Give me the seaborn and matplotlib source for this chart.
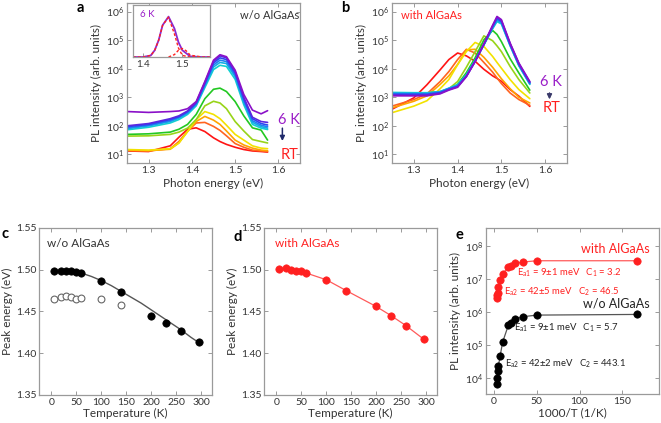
import numpy as np
import pandas as pd
import matplotlib
matplotlib.use("Agg")
import matplotlib.pyplot as plt
import seaborn as sns
from matplotlib.ticker import FixedLocator, NullLocator, FormatStrFormatter

# ---------------- data ----------------
temps = [6, 20, 30, 40, 50, 60, 100, 140, 200, 230, 260, 295]
curve_colors = ["#8a10c8", "#5a28e0", "#2a48f0", "#1e82f0", "#14aee6", "#12d0d0",
                "#22c822", "#98d418", "#f2e200", "#ffa400", "#ff6420", "#ff1414"]

# panel a: w/o AlGaAs spectra (log10 of PL intensity)
energy_a = [1.25, 1.30, 1.35, 1.37, 1.39, 1.41, 1.43, 1.45, 1.465, 1.48, 1.50, 1.52, 1.54, 1.56, 1.575]
loga_6 = [2.50, 2.47, 2.50, 2.52, 2.60, 2.85, 3.55, 4.30, 4.49, 4.42, 3.95, 3.10, 2.55, 2.42, 2.53]
loga_20 = [2.00, 2.08, 2.25, 2.35, 2.52, 2.82, 3.52, 4.25, 4.45, 4.38, 3.90, 3.00, 2.30, 2.15, 2.12]
loga_30 = [1.97, 2.05, 2.22, 2.32, 2.50, 2.80, 3.48, 4.20, 4.38, 4.32, 3.85, 2.95, 2.25, 2.08, 2.03]
loga_40 = [1.93, 2.02, 2.18, 2.30, 2.47, 2.77, 3.44, 4.13, 4.30, 4.25, 3.78, 2.88, 2.18, 2.02, 1.97]
loga_50 = [1.90, 2.00, 2.15, 2.27, 2.44, 2.74, 3.40, 4.06, 4.22, 4.18, 3.72, 2.82, 2.12, 1.97, 1.92]
loga_60 = [1.86, 1.95, 2.10, 2.22, 2.40, 2.70, 3.34, 3.97, 4.12, 4.08, 3.63, 2.74, 2.05, 1.92, 1.87]
loga_100 = [1.70, 1.72, 1.78, 1.88, 2.05, 2.40, 2.95, 3.28, 3.32, 3.20, 2.85, 2.35, 1.93, 1.85, 1.50]
loga_140 = [1.64, 1.65, 1.70, 1.78, 1.92, 2.22, 2.70, 2.86, 2.80, 2.60, 2.15, 1.82, 1.52, 1.45, 1.40]
loga_200 = [1.17, 1.15, 1.20, 1.40, 1.80, 2.22, 2.50, 2.40, 2.25, 2.02, 1.70, 1.50, 1.30, 1.22, 1.20]
loga_230 = [1.15, 1.13, 1.18, 1.40, 1.80, 2.15, 2.33, 2.20, 2.05, 1.82, 1.50, 1.33, 1.22, 1.15, 1.13]
loga_260 = [1.13, 1.12, 1.20, 1.45, 1.82, 2.10, 2.12, 1.98, 1.84, 1.65, 1.38, 1.25, 1.15, 1.12, 1.10]
loga_295 = [1.12, 1.10, 1.30, 1.60, 1.88, 1.93, 1.80, 1.58, 1.45, 1.35, 1.25, 1.17, 1.12, 1.10, 1.08]

# panel b: with AlGaAs spectra (log10 of PL intensity)
energy_b = [1.25, 1.30, 1.33, 1.36, 1.38, 1.40, 1.42, 1.44, 1.46, 1.48, 1.49, 1.50, 1.52, 1.54, 1.565]
logb_6 = [3.05, 3.05, 3.05, 3.12, 3.25, 3.35, 3.72, 4.25, 4.87, 5.52, 5.83, 5.72, 4.90, 4.20, 3.55]
logb_20 = [3.08, 3.07, 3.08, 3.14, 3.27, 3.37, 3.73, 4.25, 4.86, 5.50, 5.80, 5.69, 4.88, 4.18, 3.53]
logb_30 = [3.10, 3.10, 3.10, 3.16, 3.28, 3.38, 3.74, 4.26, 4.85, 5.48, 5.77, 5.66, 4.86, 4.16, 3.51]
logb_40 = [3.12, 3.12, 3.12, 3.18, 3.30, 3.40, 3.75, 4.27, 4.84, 5.45, 5.73, 5.63, 4.84, 4.14, 3.49]
logb_50 = [3.15, 3.14, 3.14, 3.19, 3.31, 3.42, 3.77, 4.28, 4.84, 5.42, 5.69, 5.60, 4.82, 4.12, 3.47]
logb_60 = [3.17, 3.16, 3.16, 3.20, 3.32, 3.44, 3.79, 4.30, 4.84, 5.40, 5.65, 5.57, 4.80, 4.10, 3.45]
logb_100 = [3.15, 3.15, 3.15, 3.18, 3.27, 3.45, 3.86, 4.38, 5.01, 5.34, 5.20, 4.95, 4.35, 3.85, 3.25]
logb_140 = [3.15, 3.15, 3.15, 3.20, 3.30, 3.55, 4.05, 4.60, 5.15, 4.98, 4.80, 4.60, 4.08, 3.62, 3.15]
logb_200 = [2.46, 2.69, 2.88, 3.30, 3.62, 4.14, 4.60, 4.92, 4.78, 4.43, 4.22, 4.02, 3.62, 3.27, 2.95]
logb_230 = [2.63, 2.86, 3.05, 3.45, 3.75, 4.15, 4.66, 4.68, 4.40, 4.05, 3.85, 3.65, 3.30, 3.00, 2.80]
logb_260 = [2.69, 2.92, 3.12, 3.55, 3.90, 4.32, 4.68, 4.55, 4.22, 3.88, 3.68, 3.48, 3.15, 2.92, 2.72]
logb_295 = [2.58, 2.98, 3.44, 3.96, 4.32, 4.55, 4.45, 4.26, 3.98, 3.75, 3.66, 3.56, 3.27, 3.04, 2.68]

# inset (6 K spectrum and its two components, log10)
energy_in = [1.375, 1.40, 1.42, 1.43, 1.44, 1.45, 1.465, 1.48, 1.49, 1.50, 1.52, 1.55, 1.57]
login_total = [3.00, 3.00, 3.05, 3.22, 3.55, 4.04, 4.32, 3.93, 3.49, 3.22, 3.02, 3.00, 3.00]
login_comp1 = [3.00, 3.00, 3.05, 3.22, 3.55, 4.04, 4.30, 3.75, 3.30, 3.05, 3.00, 3.00, 3.00]
energy_in2 = [1.465, 1.48, 1.49, 1.50, 1.51, 1.52, 1.55]
login_comp2 = [3.00, 3.08, 3.22, 3.28, 3.20, 3.06, 3.00]

# panel c: peak energy w/o AlGaAs
peak_c_main = [1.499, 1.499, 1.498, 1.498, 1.497, 1.496, 1.486, 1.473, 1.445, 1.436, 1.427, 1.414]
temps_c_open = [6, 20, 30, 40, 50, 60, 100, 140]
peak_c_open = [1.465, 1.467, 1.468, 1.467, 1.465, 1.466, 1.465, 1.458]
temps_fit = [60, 80, 100, 120, 140, 160, 180, 200, 220, 240, 260, 280, 295]
peak_c_fit = [1.496, 1.492, 1.487, 1.481, 1.474, 1.467, 1.460, 1.452, 1.444, 1.436, 1.428, 1.419, 1.413]

# panel d: peak energy with AlGaAs
peak_d = [1.501, 1.502, 1.500, 1.499, 1.498, 1.496, 1.488, 1.475, 1.456, 1.445, 1.433, 1.417]

# panel e: integrated PL intensity vs 1000/T (log10)
inv_T = [1000.0 / t for t in temps]
loge_with = [7.55, 7.55, 7.51, 7.47, 7.40, 7.36, 7.15, 6.97, 6.74, 6.58, 6.50, 6.41]
loge_wo = [5.92, 5.90, 5.85, 5.78, 5.65, 5.59, 5.08, 4.67, 4.35, 4.19, 4.00, 3.80]

# ---------------- style ----------------
sns.set_theme(style="ticks")
plt.rcParams["font.family"] = ["Lato", "DejaVu Sans"]
plt.rcParams["mathtext.fontset"] = "custom"
plt.rcParams["mathtext.rm"] = "Lato"
plt.rcParams["mathtext.it"] = "Lato:italic"
plt.rcParams["mathtext.bf"] = "Lato:bold"

SPINE = "#9a9a9a"
TXT = "#333333"
RED = "#ff2020"
TICK_FS = 7.5
LAB_FS = 8.5

fig = plt.figure(figsize=(6.61, 4.23), dpi=100)
fig.patch.set_facecolor("white")


def style_axes(ax, fs=TICK_FS):
    for s in ax.spines.values():
        s.set_color(SPINE)
        s.set_linewidth(0.9)
    ax.tick_params(direction="in", top=True, right=True, length=3, width=0.7,
                   color=SPINE, labelsize=fs, labelcolor=TXT, pad=2)


def spectra_frame(energy, logs):
    rows = []
    for t, lg in zip(temps, logs):
        for e, v in zip(energy, lg):
            rows.append({"E": e, "I": 10 ** v, "T": t})
    return pd.DataFrame(rows)


palette = dict(zip(temps, curve_colors))
order = temps[::-1]

# ---------- panel a ----------
axa = fig.add_axes([0.1921, 0.6147, 0.2618, 0.3782])
axa.set_yscale("log")
dfa = spectra_frame(energy_a, [loga_6, loga_20, loga_30, loga_40, loga_50, loga_60,
                               loga_100, loga_140, loga_200, loga_230, loga_260, loga_295])
sns.lineplot(data=dfa, x="E", y="I", hue="T", hue_order=order, palette=palette,
             legend=False, lw=1.2, ax=axa)
axa.set_xlim(1.25, 1.65)
axa.set_ylim(5, 2e6)
axa.set_xticks([1.3, 1.4, 1.5, 1.6])
axa.xaxis.set_major_formatter(FormatStrFormatter("%.1f"))
axa.yaxis.set_major_locator(FixedLocator([1e1, 1e2, 1e3, 1e4, 1e5, 1e6]))
axa.yaxis.set_minor_locator(NullLocator())
axa.set_xlabel("Photon energy (eV)", fontsize=LAB_FS, color=TXT, labelpad=2)
axa.set_ylabel("PL intensity (arb. units)", fontsize=LAB_FS, color=TXT, labelpad=3)
style_axes(axa)
axa.text(0.827, 0.925, "w/o AlGaAs", transform=axa.transAxes, ha="center", va="center",
         fontsize=8, color=TXT)
axa.text(0.937, 0.269, "6 K", transform=axa.transAxes, ha="center", va="center",
         fontsize=10.5, color="#9a1ec8")
axa.text(0.937, 0.05, "RT", transform=axa.transAxes, ha="center", va="center",
         fontsize=10.5, color=RED)
axa.annotate("", xy=(0.898, 0.12), xytext=(0.898, 0.235), xycoords="axes fraction",
             arrowprops=dict(arrowstyle="-|>", color="#1f2a6b", lw=1.1, mutation_scale=7))

# inset
axi = fig.add_axes([0.2012, 0.8652, 0.1165, 0.1229])
axi.set_yscale("log")
sns.lineplot(x=energy_in, y=[10 ** v for v in login_total], color="#8a2ad0", lw=1.3, ax=axi)
sns.lineplot(x=energy_in, y=[10 ** v for v in login_comp1], color=RED, lw=1.0,
             linestyle=(0, (2, 1.5)), ax=axi)
sns.lineplot(x=energy_in2, y=[10 ** v for v in login_comp2], color=RED, lw=1.0,
             linestyle=(0, (2, 1.5)), ax=axi)
axi.set_xlim(1.375, 1.57)
axi.set_ylim(1e3, 5e4)
axi.set_xticks([1.4, 1.5])
axi.xaxis.set_major_formatter(FormatStrFormatter("%.1f"))
axi.yaxis.set_major_locator(NullLocator())
axi.yaxis.set_minor_locator(NullLocator())
axi.set_xlabel("")
axi.set_ylabel("")
style_axes(axi, fs=7)
axi.tick_params(right=False, top=False, pad=2)
axi.text(0.09, 0.81, "6 K", transform=axi.transAxes, ha="left", va="center",
         fontsize=7, color="#9a1ec8")

# ---------- panel b ----------
axb = fig.add_axes([0.593, 0.6147, 0.2648, 0.3782])
axb.set_yscale("log")
dfb = spectra_frame(energy_b, [logb_6, logb_20, logb_30, logb_40, logb_50, logb_60,
                               logb_100, logb_140, logb_200, logb_230, logb_260, logb_295])
sns.lineplot(data=dfb, x="E", y="I", hue="T", hue_order=order, palette=palette,
             legend=False, lw=1.2, ax=axb)
axb.set_xlim(1.25, 1.65)
axb.set_ylim(5, 2e6)
axb.set_xticks([1.3, 1.4, 1.5, 1.6])
axb.xaxis.set_major_formatter(FormatStrFormatter("%.1f"))
axb.yaxis.set_major_locator(FixedLocator([1e1, 1e2, 1e3, 1e4, 1e5, 1e6]))
axb.yaxis.set_minor_locator(NullLocator())
axb.set_xlabel("Photon energy (eV)", fontsize=LAB_FS, color=TXT, labelpad=2)
axb.set_ylabel("PL intensity (arb. units)", fontsize=LAB_FS, color=TXT, labelpad=3)
style_axes(axb)
axb.text(0.223, 0.919, "with AlGaAs", transform=axb.transAxes, ha="center", va="center",
         fontsize=8, color=RED)
axb.text(0.908, 0.508, "6 K", transform=axb.transAxes, ha="center", va="center",
         fontsize=10.5, color="#9a1ec8")
axb.text(0.912, 0.342, "RT", transform=axb.transAxes, ha="center", va="center",
         fontsize=10.5, color=RED)
axb.annotate("", xy=(0.9, 0.38), xytext=(0.9, 0.455), xycoords="axes fraction",
             arrowprops=dict(arrowstyle="-|>", color="#3a3a6a", lw=1.1, mutation_scale=7))

# ---------- panel c ----------
axc = fig.add_axes([0.059, 0.0662, 0.2617, 0.3948])
sns.lineplot(x=temps_fit, y=peak_c_fit, color="#555555", lw=1.0, ax=axc)
sns.scatterplot(x=temps_c_open, y=peak_c_open, s=24, facecolor="white",
                edgecolor="#666666", linewidth=0.8, ax=axc, zorder=3)
sns.scatterplot(x=temps, y=peak_c_main, s=28, color="black", edgecolor="black",
                linewidth=0.5, ax=axc, zorder=4)
axc.set_xlim(-25, 322)
axc.set_ylim(1.35, 1.55)
axc.set_xticks([0, 50, 100, 150, 200, 250, 300])
axc.set_yticks([1.35, 1.40, 1.45, 1.50, 1.55])
axc.yaxis.set_major_formatter(FormatStrFormatter("%.2f"))
axc.set_xlabel("Temperature (K)", fontsize=LAB_FS, color=TXT, labelpad=1)
axc.set_ylabel("Peak energy (eV)", fontsize=LAB_FS, color=TXT, labelpad=2)
style_axes(axc)
axc.text(0.045, 0.908, "w/o AlGaAs", transform=axc.transAxes, ha="left", va="center",
         fontsize=8.5, color=TXT)

# ---------- panel d ----------
axd = fig.add_axes([0.3994, 0.0662, 0.2617, 0.3948])
sns.lineplot(x=temps[1:], y=peak_d[1:], color="#ff5a5a", lw=0.9, ax=axd)
sns.scatterplot(x=temps, y=peak_d, s=28, color=RED, edgecolor=RED, linewidth=0.5,
                ax=axd, zorder=4)
axd.set_xlim(-25, 322)
axd.set_ylim(1.35, 1.55)
axd.set_xticks([0, 50, 100, 150, 200, 250, 300])
axd.set_yticks([1.35, 1.40, 1.45, 1.50, 1.55])
axd.yaxis.set_major_formatter(FormatStrFormatter("%.2f"))
axd.set_xlabel("Temperature (K)", fontsize=LAB_FS, color=TXT, labelpad=1)
axd.set_ylabel("Peak energy (eV)", fontsize=LAB_FS, color=TXT, labelpad=2)
style_axes(axd)
axd.text(0.064, 0.908, "with AlGaAs", transform=axd.transAxes, ha="left", va="center",
         fontsize=8.5, color=RED)

# ---------- panel e ----------
axe = fig.add_axes([0.7352, 0.0686, 0.2618, 0.3924])
axe.set_yscale("log")
sns.lineplot(x=inv_T, y=[10 ** v for v in loge_with], color="#ff5a5a", lw=0.9, ax=axe)
sns.lineplot(x=inv_T, y=[10 ** v for v in loge_wo], color="#555555", lw=0.9, ax=axe)
sns.scatterplot(x=inv_T, y=[10 ** v for v in loge_with], s=28, color=RED, edgecolor=RED,
                linewidth=0.5, ax=axe, zorder=4)
sns.scatterplot(x=inv_T, y=[10 ** v for v in loge_wo], s=28, color="black",
                edgecolor="black", linewidth=0.5, ax=axe, zorder=4)
axe.set_xlim(-9.5, 193)
axe.set_ylim(3.2e3, 3.5e8)
axe.set_xticks([0, 50, 100, 150])
axe.yaxis.set_major_locator(FixedLocator([1e4, 1e5, 1e6, 1e7, 1e8]))
axe.yaxis.set_minor_locator(NullLocator())
axe.set_xlabel("1000/T (1/K)", fontsize=LAB_FS, color=TXT, labelpad=1)
axe.set_ylabel("PL intensity (arb. units)", fontsize=LAB_FS, color=TXT, labelpad=3)
style_axes(axe)
axe.text(0.948, 0.872, "with AlGaAs", transform=axe.transAxes, ha="right", va="center",
         fontsize=9, color=RED)
axe.text(0.181, 0.729, r"E$_{\rm a1}$ = 9±1 meV   C$_{\rm 1}$ = 3.2", transform=axe.transAxes,
         ha="left", va="center", fontsize=6.8, color=RED)
axe.text(0.104, 0.614, r"E$_{\rm a2}$ = 42±5 meV   C$_{\rm 2}$ = 46.5", transform=axe.transAxes,
         ha="left", va="center", fontsize=6.8, color=RED)
axe.text(0.948, 0.546, "w/o AlGaAs", transform=axe.transAxes, ha="right", va="center",
         fontsize=9, color="#222222")
axe.text(0.162, 0.402, r"E$_{\rm a1}$ = 9±1 meV   C$_{\rm 1}$ = 5.7", transform=axe.transAxes,
         ha="left", va="center", fontsize=6.8, color="#222222")
axe.text(0.110, 0.181, r"E$_{\rm a2}$ = 42±2 meV   C$_{\rm 2}$ = 443.1", transform=axe.transAxes,
         ha="left", va="center", fontsize=6.8, color="#222222")

# panel letters
for letter, (px, py) in {"a": (80, 8), "b": (345, 8), "c": (5, 234),
                          "d": (238, 237), "e": (459, 235)}.items():
    fig.text(px / 661, 1 - py / 423, letter, fontsize=10.5, fontweight="bold",
             ha="center", va="center", color="black")

fig.savefig("out.png", dpi=100, facecolor="white")
